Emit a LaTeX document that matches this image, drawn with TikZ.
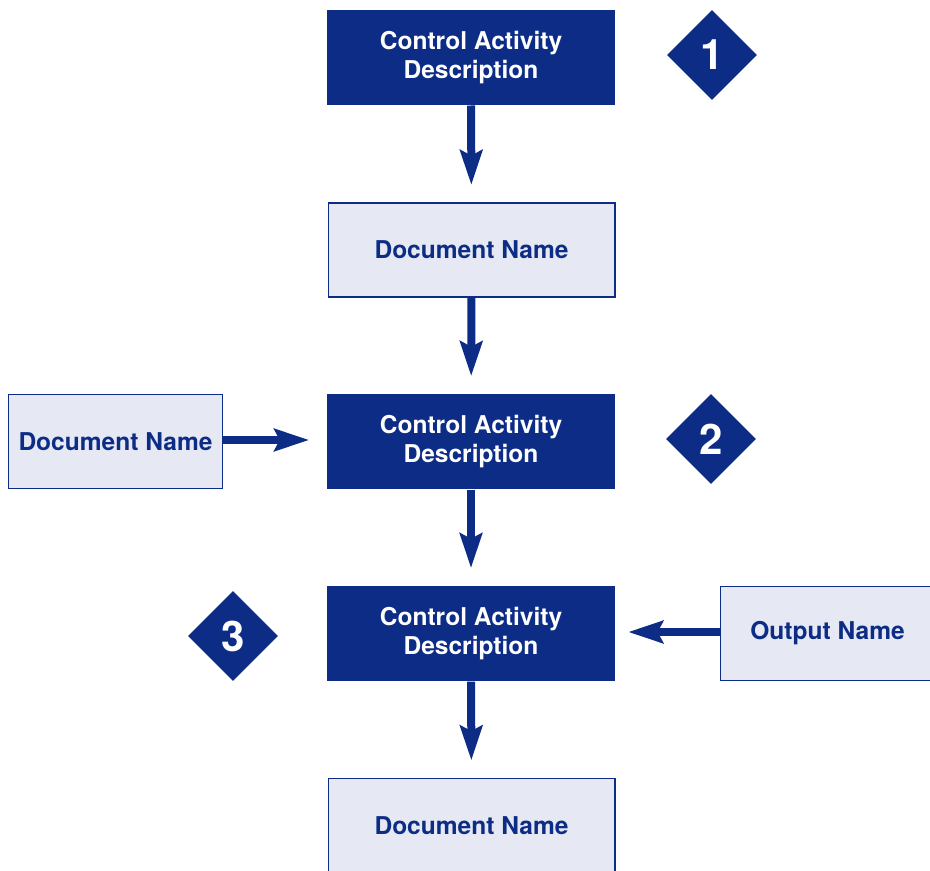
\documentclass[tikz,border=0pt]{standalone}
\usepackage{fontspec}
\setmainfont{TeX Gyre Heros}
\usetikzlibrary{arrows.meta,shapes.geometric}

\definecolor{ctrlnavy}{RGB}{13,44,133}
\definecolor{docfill}{RGB}{230,233,243}

\tikzset{
  every picture/.style={line width=0.75pt},
  actbox/.style={fill=ctrlnavy, text=white, font=\bfseries\fontsize{18.4}{21.75}\selectfont,
    align=center, inner sep=0pt, minimum width=216pt, minimum height=71.25pt},
  docbox/.style={fill=docfill, draw=ctrlnavy, line width=1pt, text=ctrlnavy,
    font=\bfseries\fontsize{18.4}{21.75}\selectfont,
    align=center, inner sep=0pt, minimum width=215pt, minimum height=70.5pt},
  sidebox/.style={docbox, minimum width=160.5pt},
  stepmark/.style={diamond, fill=ctrlnavy, text=white, inner sep=0pt,
    minimum width=67.5pt, minimum height=67.5pt, font=\bfseries\fontsize{31.5}{32}\selectfont},
  flow/.style={draw=ctrlnavy, line width=6pt,
    -{Stealth[length=26pt, width=16.5pt, inset=4pt]}, shorten >=13pt}
}

\begin{document}
\begin{tikzpicture}[x=0.75pt,y=0.75pt,yscale=-1,xscale=1]
  \clip (0,0) rectangle (930,870);

  % Control activities
  \node[actbox] (act1) at (471,57.5) {Control Activity\\Description};
  \node[actbox] (act2) at (471,441.5) {Control Activity\\Description};
  \node[actbox] (act3) at (471,633.5) {Control Activity\\Description};

  % Documents
  \node[docbox] (doc1) at (471.5,250) {Document Name};
  \node[docbox] (doc2) at (471.5,825.5) {Document Name};
  \node[sidebox] (docin) at (115.5,441.5) {Document Name};
  \node[sidebox] (outbox) at (827.5,633.5) {Output Name};

  % Step markers
  \node[stepmark] (mark1) at (712,55) {1};
  \node[stepmark] (mark2) at (711,439) {2};
  \node[stepmark] (mark3) at (233,636) {3};

  % Flow
  \draw[flow] (act1) -- (doc1);
  \draw[flow] (doc1) -- (act2);
  \draw[flow] (act2) -- (act3);
  \draw[flow] (act3) -- (doc2);
  \draw[flow] (docin.east |- 0,440) -- (act2.west |- 0,440);
  \draw[flow, shorten >=9.5pt] (outbox.west |- 0,632) -- (act3.east |- 0,632);
\end{tikzpicture}
\end{document}
